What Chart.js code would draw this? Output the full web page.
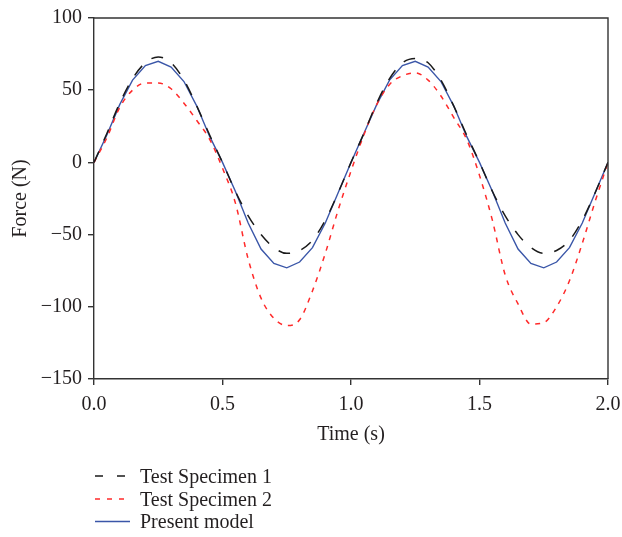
<!DOCTYPE html>
<html>
<head>
<meta charset="utf-8">
<script src="https://cdn.jsdelivr.net/npm/chart.js@4.4.1/dist/chart.umd.min.js"></script>
<style>
html,body{margin:0;padding:0;background:#fff;}
#wrap{width:622px;height:537px;position:relative;}
</style>
</head>
<body>
<div id="wrap"><canvas id="c" width="622" height="537"></canvas></div>
<script>
// ---- data ----
const timeS = [0,0.05,0.1,0.15,0.2,0.25,0.3,0.35,0.4,0.45,0.5,0.55,0.6,0.65,0.7,0.75,0.8,0.85,0.9,0.95,1.0,
               1.05,1.1,1.15,1.2,1.25,1.3,1.35,1.4,1.45,1.5,1.55,1.6,1.65,1.7,1.75,1.8,1.85,1.9,1.95,2.0];
const specimen1 = [0,20,41,58,69,73,69,57,39,19,0,-20,-37,-50,-59,-63,-61,-54,-40,-21,0,
                   20,41,58,69,72,69,57,39,19,0,-20,-37,-50,-59,-63,-61,-54,-40,-21,0];
const specimen2 = [0,17,38,50,55,55,51,41,29,16,-4,-28,-67,-94,-108,-113,-109,-89,-63,-33,-6,
                   19,40,54,60,62,57,46,31,16,-9,-40,-78,-98,-112,-111,-100,-82,-56,-27,0];
const presentModel = [0,19,40,57,67,70,66,56,39,18,0,-20,-42,-60,-70,-73,-69,-59,-42,-21,0,
                      20,40,57,67,70,66,56,39,18,0,-20,-42,-60,-70,-73,-69,-59,-42,-21,0];
const seriesNames = ["Test Specimen 1","Test Specimen 2","Present model"];
const xTicks = [0,0.5,1.0,1.5,2.0];
const yTicks = [-150,-100,-50,0,50,100];
const xTitle = "Time (s)";
const yTitle = "Force (N)";

const pts = arr => arr.map((v,i)=>({x:timeS[i], y:v}));
const FONT = "'Liberation Serif', 'Times New Roman', serif";
const FS = 20;
const TXT = "#231f20";
const AX = "#333333";

const framePlugin = {
  id:'frame',
  afterDatasetsDraw(chart){
    const {ctx, chartArea:a} = chart;
    ctx.save();
    ctx.strokeStyle = AX; ctx.lineWidth = 1.4;
    ctx.beginPath();
    ctx.moveTo(a.left, a.top); ctx.lineTo(a.right, a.top); ctx.lineTo(a.right, a.bottom);
    ctx.stroke();
    ctx.restore();
  }
};
const legendPlugin = {
  id:'customLegend',
  afterDraw(chart){
    const ctx = chart.ctx;
    const rows = [476, 499, 521.5];
    ctx.save();
    chart.data.datasets.forEach((ds,i)=>{
      const y = rows[i];
      ctx.strokeStyle = ds.borderColor; ctx.lineWidth = ds.borderWidth;
      ctx.setLineDash(ds.legendDash || []);
      ctx.beginPath(); ctx.moveTo(95, y); ctx.lineTo(130, y); ctx.stroke();
      ctx.setLineDash([]);
      ctx.fillStyle = TXT; ctx.font = FS + "px " + FONT;
      ctx.textBaseline = 'middle'; ctx.textAlign = 'left';
      ctx.fillText(ds.label, 140, y + 1.5);
    });
    ctx.restore();
  }
};

new Chart(document.getElementById('c'), {
  type:'line',
  data:{
    datasets:[
      {label:seriesNames[0], data:pts(specimen1), borderColor:'#1a1a1a', borderWidth:1.5,
       borderDash:[12,12], legendDash:[8,14], pointRadius:0, cubicInterpolationMode:'monotone', fill:false},
      {label:seriesNames[1], data:pts(specimen2), borderColor:'#ff2a2a', borderWidth:1.5,
       borderDash:[5,6], legendDash:[5,7], pointRadius:0, cubicInterpolationMode:'monotone', fill:false},
      {label:seriesNames[2], data:pts(presentModel), borderColor:'#3a56a8', borderWidth:1.4,
       pointRadius:0, tension:0, fill:false}
    ]
  },
  options:{
    responsive:false, animation:false, devicePixelRatio:1,
    layout:{padding:{left:0, top:13, right:14, bottom:90}},
    plugins:{legend:{display:false}, tooltip:{enabled:false}},
    scales:{
      x:{
        type:'linear', min:0, max:2,
        afterBuildTicks(s){ s.ticks = xTicks.map(v=>({value:v})); },
        afterFit(s){ s.height = 68; s.paddingLeft = 0; s.paddingRight = 0; },
        ticks:{ color:TXT, font:{family:FONT, size:FS}, padding:8, maxRotation:0,
          callback:v=>Number(v).toFixed(1) },
        grid:{ drawOnChartArea:false, drawTicks:true, tickLength:6, color:AX, lineWidth:1.4 },
        border:{ display:true, color:AX, width:1.4 },
        title:{ display:true, text:xTitle, color:TXT, font:{family:FONT, size:FS}, padding:{top:4, bottom:0} }
      },
      y:{
        type:'linear', min:-150, max:100,
        afterBuildTicks(s){ s.ticks = yTicks.map(v=>({value:v})); },
        afterFit(s){ s.width = 94; },
        ticks:{ color:TXT, font:{family:FONT, size:FS}, padding:6,
          callback:v=> v<0 ? '\u2212'+Math.abs(v) : String(v) },
        grid:{ drawOnChartArea:false, drawTicks:true, tickLength:6, color:AX, lineWidth:1.4 },
        border:{ display:true, color:AX, width:1.4 },
        title:{ display:true, text:yTitle, color:TXT, font:{family:FONT, size:FS}, padding:{top:9,bottom:0} }
      }
    }
  },
  plugins:[framePlugin, legendPlugin]
});
</script>
</body>
</html>
